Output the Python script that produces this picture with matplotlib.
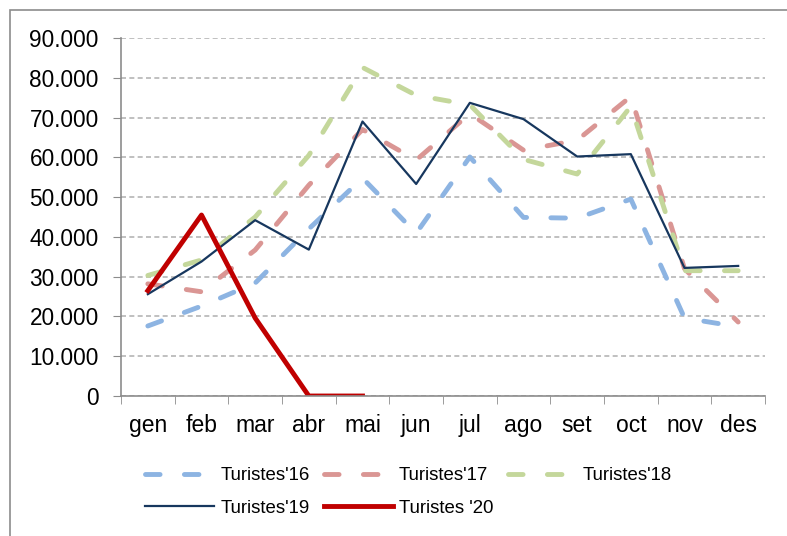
import matplotlib
matplotlib.use("Agg")
import matplotlib.pyplot as plt
from matplotlib.patches import Rectangle

plt.rcParams['font.family'] = ['Liberation Sans', 'DejaVu Sans']

months = ['gen', 'feb', 'mar', 'abr', 'mai', 'jun', 'jul', 'ago', 'set', 'oct', 'nov', 'des']
t16 = [17600, 22600, 28400, 42000, 54800, 40900, 60100, 44900, 44700, 49500, 19600, 17400]
t17 = [28200, 26200, 36700, 53000, 67000, 59300, 71000, 61800, 64300, 75300, 32000, 18600]
t18 = [30300, 34200, 45000, 60500, 82600, 75600, 73200, 59500, 55800, 72800, 31500, 31500]
t19 = [25600, 33800, 44200, 36800, 69000, 53300, 73700, 69600, 60200, 60800, 32200, 32700]
t20 = [26500, 45500, 19600, 0, 0]
yticks = [0, 10000, 20000, 30000, 40000, 50000, 60000, 70000, 80000, 90000]
ytick_labels = ['0', '10.000', '20.000', '30.000', '40.000', '50.000', '60.000', '70.000', '80.000', '90.000']

fig = plt.figure(figsize=(7.87, 5.36), dpi=100)
fig.patches.append(Rectangle((10/787, -0.1), 1.2, (1 - 10/536) + 0.1, transform=fig.transFigure,
                             fill=False, edgecolor='#8c8c8c', linewidth=1.2))
ax = fig.add_axes([121/787, 1 - 396/536, (765 - 121)/787, (396 - 38)/536])

x = list(range(len(months)))
dash = (0, (3.0, 5.0))
l16, = ax.plot(x, t16, color='#8DB4E2', lw=3.5, linestyle=dash, dash_capstyle='round', label="Turistes'16")
l17, = ax.plot(x, t17, color='#DA9694', lw=3.5, linestyle=dash, dash_capstyle='round', label="Turistes'17")
l18, = ax.plot(x, t18, color='#C4D79B', lw=3.5, linestyle=dash, dash_capstyle='round', label="Turistes'18")
l19, = ax.plot(x, t19, color='#17375E', lw=1.6, label="Turistes'19")
l20, = ax.plot(x[:len(t20)], t20, color='#C00000', lw=3.5, label="Turistes '20")

ax.set_xlim(-0.5, 11.5)
ax.set_ylim(0, 90000)
ax.set_yticks(yticks)
ax.set_yticklabels(ytick_labels, fontsize=16.3)
ax.set_xticks(x)
ax.set_xticklabels(months, fontsize=16.5)
ax.set_xticks([i - 0.5 for i in range(13)], minor=True)
ax.tick_params(axis='x', which='major', length=0, pad=13)
ax.tick_params(axis='x', which='minor', length=6, color='#8c8c8c', direction='out')
ax.tick_params(axis='y', length=6, color='#8c8c8c', direction='out', pad=10)
ax.grid(axis='y', color='#b5b5b5', linestyle=(0, (3, 2)), linewidth=1.2)
ax.set_axisbelow(True)
for s in ['top', 'right']:
    ax.spines[s].set_visible(False)
for s in ['left', 'bottom']:
    ax.spines[s].set_color('#8c8c8c')
    ax.spines[s].set_linewidth(1.2)

handles = [l16, l19, l17, l20, l18]
fig.legend(handles=handles, labels=[h.get_label() for h in handles], ncol=3,
           loc='upper left', bbox_to_anchor=(145/787, 1 - 467/536), frameon=False, borderpad=0,
           borderaxespad=0, fontsize=13.4, handlelength=3.7, columnspacing=0.75, labelspacing=0.85,
           handletextpad=0.35)

fig.savefig('out.png', dpi=100)
